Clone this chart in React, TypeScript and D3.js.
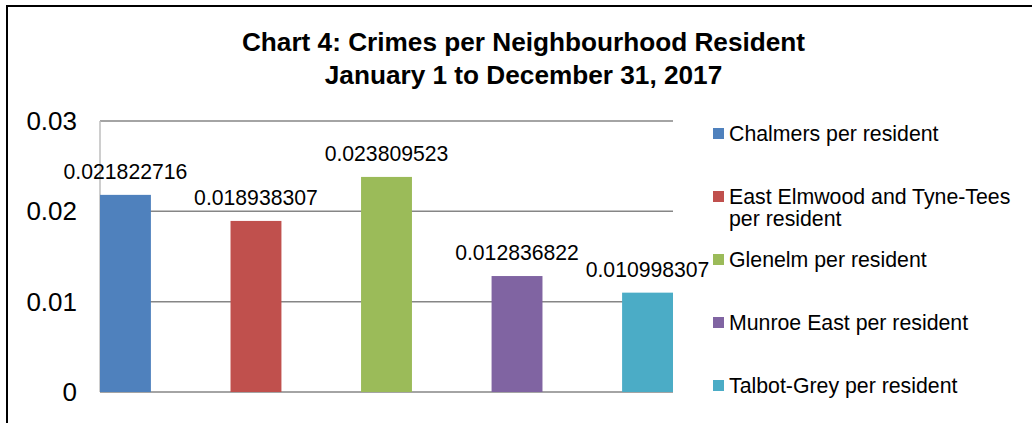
import React from "react";
import * as d3 from "d3";

const categories = [
  "Chalmers per resident",
  "East Elmwood and Tyne-Tees per resident",
  "Glenelm per resident",
  "Munroe East per resident",
  "Talbot-Grey per resident",
];
const legendLines = [
  ["Chalmers per resident"],
  ["East Elmwood and Tyne-Tees", "per resident"],
  ["Glenelm per resident"],
  ["Munroe East per resident"],
  ["Talbot-Grey per resident"],
];
const values = [0.021822716, 0.018938307, 0.023809523, 0.012836822, 0.010998307];
const valueLabels = ["0.021822716", "0.018938307", "0.023809523", "0.012836822", "0.010998307"];
const colors = ["#4F81BD", "#C0504D", "#9BBB59", "#8064A2", "#4BACC6"];
const yTicks = [0, 0.01, 0.02, 0.03];
const yTickLabels = ["0", "0.01", "0.02", "0.03"];
const titleLines = ["Chart 4: Crimes per Neighbourhood Resident", "January 1 to December 31, 2017"];

const FONT = "'Liberation Sans', Arial, sans-serif";

export default function App() {
  const W = 1032, H = 423;
  const plotL = 100, plotR = 673, plotT = 121, plotB = 392;
  const y = d3.scaleLinear().domain([0, 0.03]).range([plotB, plotT]);
  const x = d3.scaleBand<string>().domain(categories).range([plotL, plotR]).paddingInner(0.61).paddingOuter(0);
  const legendY = d3.scaleLinear().domain([0, 1]).range([133.5, 196.5]);

  return (
    <svg width={W} height={H} style={{ position: "absolute", left: 0, top: 0, display: "block" }} fontFamily={FONT}>
      <rect x={0} y={0} width={W} height={H} fill="#fff" />
      <line x1={6} y1={6} x2={W} y2={6} stroke="#000" strokeWidth={2} />
      <line x1={7} y1={6} x2={7} y2={H} stroke="#000" strokeWidth={2} />
      {titleLines.map((t, i) => (
        <text key={t} x={523.5} y={51 + i * 33} textAnchor="middle" fontSize={26.2} fontWeight="bold" fill="#000">{t}</text>
      ))}
      {yTicks.map((t, i) => (
        <g key={t}>
          <line x1={plotL} x2={plotR} y1={y(t)} y2={y(t)} stroke="#868686" strokeWidth={1.5} />
          <text x={77} y={y(t)} dy="0.35em" textAnchor="end" fontSize={26} fill="#000">{yTickLabels[i]}</text>
        </g>
      ))}
      <line x1={plotL} x2={plotL} y1={plotT} y2={plotB} stroke="#BEBEBE" strokeWidth={1.5} />
      {categories.map((c, i) => (
        <g key={c}>
          <rect x={x(c)} y={y(values[i])} width={x.bandwidth()} height={plotB - y(values[i])} fill={colors[i]} />
          <text x={(x(c) as number) + x.bandwidth() / 2} y={y(values[i]) - 16} textAnchor="middle" fontSize={21.2} fill="#000">{valueLabels[i]}</text>
        </g>
      ))}
      {categories.map((c, i) => (
        <g key={"lg" + c}>
          <rect x={713} y={legendY(i) - 5.5} width={11} height={11} fill={colors[i]} />
          {legendLines[i].map((ln, j) => (
            <text key={ln} x={729} y={legendY(i) + j * 22} dy="0.35em" fontSize={21.3} fill="#000">{ln}</text>
          ))}
        </g>
      ))}
    </svg>
  );
}
